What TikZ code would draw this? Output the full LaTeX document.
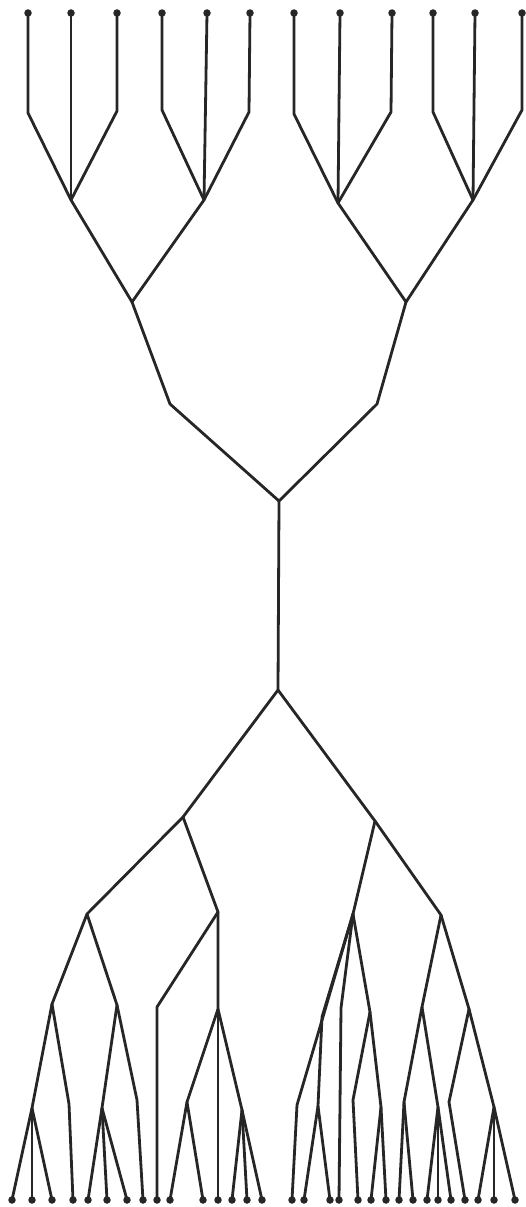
\documentclass[tikz,border=0pt]{standalone}
\begin{document}
\begin{tikzpicture}[x=1pt,y=-1pt,
  edge/.style={draw=black!85,line width=2.8pt,line join=round,line cap=round},
  leaf/.style={circle,fill=black!85,inner sep=0pt,minimum size=7.5pt}]
\useasboundingbox (0,0) rectangle (526,1207);
% ---------- top tree ----------
\foreach \n/\x in {1/28,2/71,3/117,4/162,5/207,6/250,7/294,8/340,9/392,10/433,11/475,12/522}
  \node[leaf] (t\n) at (\x,13) {};
\coordinate (b1) at (28,113);
\coordinate (b3) at (117,111);
\coordinate (b4) at (162,110);
\coordinate (b6) at (249,112);
\coordinate (b7) at (294,114);
\coordinate (b9) at (391,112);
\coordinate (b10) at (433,112);
\coordinate (b12) at (522,110);
\coordinate (g1) at (71,200);
\coordinate (g2) at (204,200);
\coordinate (g3) at (338,203);
\coordinate (g4) at (473,200);
\coordinate (h1) at (132,302);
\coordinate (h2) at (406,302);
\coordinate (k1) at (170,404);
\coordinate (k2) at (377,404);
\coordinate (m1) at (279,501);
\coordinate (m2) at (278,690);
\draw[edge] (t1.center) -- (b1) -- (g1);
\draw[edge] (t2.center) -- (g1);
\draw[edge] (t3.center) -- (b3) -- (g1);
\draw[edge] (t4.center) -- (b4) -- (g2);
\draw[edge] (t5.center) -- (g2);
\draw[edge] (t6.center) -- (b6) -- (g2);
\draw[edge] (t7.center) -- (b7) -- (g3);
\draw[edge] (t8.center) -- (g3);
\draw[edge] (t9.center) -- (b9) -- (g3);
\draw[edge] (t10.center) -- (b10) -- (g4);
\draw[edge] (t11.center) -- (g4);
\draw[edge] (t12.center) -- (b12) -- (g4);
\draw[edge] (g1) -- (h1) -- (g2);
\draw[edge] (g3) -- (h2) -- (g4);
\draw[edge] (h1) -- (k1) -- (m1) -- (k2) -- (h2);
\draw[edge] (m1) -- (m2);
% ---------- bottom tree ----------
\foreach \n/\x in {1/12,2/32,3/52,4/73,5/88,6/107,7/127,8/143,9/157,10/170,11/203,12/218,13/232,14/247,15/262}
  \node[leaf] (l\n) at (\x,1200) {};
\foreach \n/\x in {1/292,2/304,3/330,4/339,5/358,6/371,7/386,8/399,9/413,10/427,11/438,12/451,13/465,14/478,15/494,16/515}
  \node[leaf] (r\n) at (\x,1200) {};
\coordinate (L1) at (183,817);
\coordinate (R1) at (375,821);
\coordinate (a) at (87,914);
\coordinate (aa) at (52,1004);
\coordinate (aaa) at (32,1108);
\coordinate (aab) at (69,1104);
\coordinate (ab) at (117,1005);
\coordinate (aba) at (102,1108);
\coordinate (abb) at (137,1100);
\coordinate (b) at (218,912);
\coordinate (ba) at (157,1007);
\coordinate (bb) at (218,1009);
\coordinate (bba) at (187,1102);
\coordinate (bbc) at (242,1110);
\coordinate (c) at (353,914);
\coordinate (cL) at (325,1010);
\coordinate (cLb) at (297,1105);
\coordinate (cM) at (322,1017);
\coordinate (cMa) at (318,1106);
\coordinate (cV) at (341,1008);
\coordinate (cR) at (370,1012);
\coordinate (cRa) at (353,1100);
\coordinate (cRb) at (381,1107);
\coordinate (d) at (441,915);
\coordinate (da) at (422,1007);
\coordinate (daa) at (404,1102);
\coordinate (dab) at (438,1107);
\coordinate (db) at (469,1009);
\coordinate (dba) at (449,1102);
\coordinate (dbb) at (494,1107);
\draw[edge] (R1) -- (m2) -- (L1);
% left subtree
\draw[edge] (L1) -- (a) -- (aa) -- (aaa) -- (l1.center);
\draw[edge] (aaa) -- (l2.center);
\draw[edge] (aaa) -- (l3.center);
\draw[edge] (aa) -- (aab) -- (l4.center);
\draw[edge] (a) -- (ab) -- (aba) -- (l5.center);
\draw[edge] (aba) -- (l6.center);
\draw[edge] (aba) -- (l7.center);
\draw[edge] (ab) -- (abb) -- (l8.center);
\draw[edge] (L1) -- (b) -- (ba) -- (l9.center);
\draw[edge] (b) -- (bb) -- (bba) -- (l10.center);
\draw[edge] (bba) -- (l11.center);
\draw[edge] (bb) -- (l12.center);
\draw[edge] (bb) -- (bbc) -- (l13.center);
\draw[edge] (bbc) -- (l14.center);
\draw[edge] (bbc) -- (l15.center);
% right subtree
\draw[edge] (R1) -- (c) -- (cL) -- (cLb) -- (r1.center);
\draw[edge] (c) -- (cM) -- (cMa) -- (r2.center);
\draw[edge] (cMa) -- (r3.center);
\draw[edge] (c) -- (cV) -- (r4.center);
\draw[edge] (c) -- (cR) -- (cRa) -- (r5.center);
\draw[edge] (cR) -- (cRb) -- (r6.center);
\draw[edge] (cRb) -- (r7.center);
\draw[edge] (R1) -- (d) -- (da) -- (daa) -- (r8.center);
\draw[edge] (daa) -- (r9.center);
\draw[edge] (da) -- (dab) -- (r10.center);
\draw[edge] (dab) -- (r11.center);
\draw[edge] (dab) -- (r12.center);
\draw[edge] (d) -- (db) -- (dba) -- (r13.center);
\draw[edge] (db) -- (dbb) -- (r14.center);
\draw[edge] (dbb) -- (r15.center);
\draw[edge] (dbb) -- (r16.center);
\end{tikzpicture}
\end{document}
